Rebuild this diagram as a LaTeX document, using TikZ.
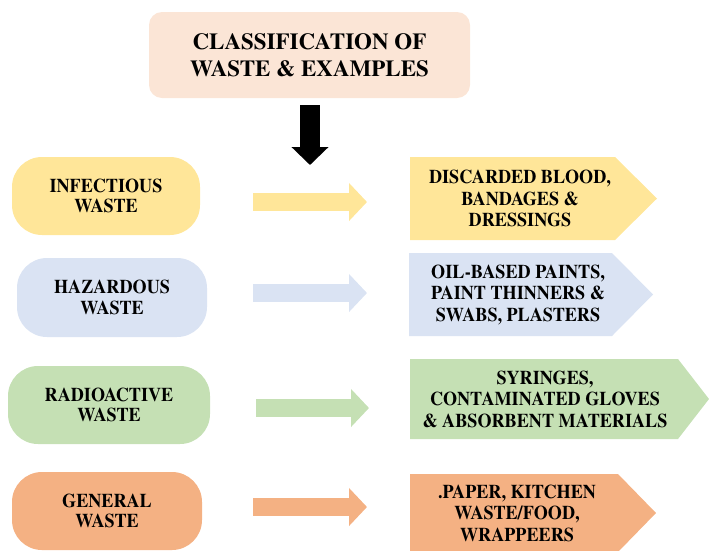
\documentclass[tikz,border=0pt]{standalone}
\usepackage{fontspec}
\setmainfont{texgyretermes}[Extension=.otf, UprightFont=*-regular, BoldFont=*-bold, ItalicFont=*-italic, BoldItalicFont=*-bolditalic]
\newfontfamily\narrowserif{texgyretermes}[Extension=.otf, UprightFont=*-regular, BoldFont=*-bold, FakeStretch=0.93]
\usetikzlibrary{arrows.meta}
\definecolor{titlefill}{HTML}{FBE5D6}
\definecolor{cyel}{HTML}{FFE699}
\definecolor{cblu}{HTML}{DAE3F3}
\definecolor{cgrn}{HTML}{C5E0B4}
\definecolor{cora}{HTML}{F4B183}
\tikzset{
  titlebox/.style={fill=titlefill, rounded corners=13pt, minimum width=321pt, minimum height=86pt,
    align=center, inner sep=0pt, font=\bfseries\fontsize{23}{27}\selectfont},
  leftbox/.style={rounded corners=30pt, minimum height=78pt, align=center, inner sep=0pt,
    font=\narrowserif\bfseries\fontsize{19.5}{20.5}\selectfont},
  tgttext/.style={align=center, inner sep=0pt, font=\narrowserif\bfseries\fontsize{19.5}{21.5}\selectfont},
  fatarrow/.style={line width=18pt, -{Triangle[length=18pt,width=37pt]}},
  blackarrow/.style={line width=20pt, black, -{Triangle[length=18pt,width=36pt]}}
}
\begin{document}
\begin{tikzpicture}[x=1pt,y=-1pt]
\useasboundingbox (0,0) rectangle (709,550);
% title
\node[titlebox] (title) at (309.5,55) {CLASSIFICATION OF\\WASTE \& EXAMPLES};
\coordinate (ba) at (310,105);
\coordinate (bb) at (310,165);
\draw[blackarrow] (ba) -- (bb);
% row 1
\node[leftbox, fill=cyel, minimum width=188pt] (l1) at (106,196) {INFECTIOUS\\WASTE};
\fill[cyel] (410,157) -- (615,157) -- (657,198.5) -- (615,240) -- (410,240) -- cycle;
\node[tgttext] (t1) at (520,198.5) {DISCARDED BLOOD,\\BANDAGES \&\\DRESSINGS};
\coordinate (a1s) at (253,202);
\coordinate (a1e) at (367,202);
\draw[fatarrow, cyel] (a1s) -- (a1e);
% row 2
\node[leftbox, fill=cblu, minimum width=190pt, minimum height=79pt] (l2) at (112,297.5) {HAZARDOUS\\WASTE};
\fill[cblu] (409,253) -- (612,253) -- (653,294.5) -- (612,336) -- (409,336) -- cycle;
\node[tgttext] (t2) at (518,294.5) {OIL-BASED PAINTS,\\PAINT THINNERS \&\\SWABS, PLASTERS};
\coordinate (a2s) at (253,293);
\coordinate (a2e) at (367,293);
\draw[fatarrow, cblu] (a2s) -- (a2e);
% row 3
\node[leftbox, fill=cgrn, minimum width=202pt] (l3) at (109,405) {RADIOACTIVE\\WASTE};
\fill[cgrn] (410,359) -- (678,359) -- (709,399) -- (678,439) -- (410,439) -- cycle;
\node[tgttext] (t3) at (545,399) {SYRINGES,\\CONTAMINATED GLOVES\\\& ABSORBENT MATERIALS};
\coordinate (a3s) at (256,408);
\coordinate (a3e) at (369,408);
\draw[fatarrow, cgrn] (a3s) -- (a3e);
% row 4
\node[leftbox, fill=cora, minimum width=190pt] (l4) at (107,511) {GENERAL\\WASTE};
\fill[cora] (410,474) -- (618,474) -- (656,513) -- (618,552) -- (410,552) -- cycle;
\node[tgttext] (t4) at (517,513) {.PAPER, KITCHEN\\WASTE/FOOD,\\WRAPPEERS};
\coordinate (a4s) at (253,507);
\coordinate (a4e) at (367,507);
\draw[fatarrow, cora] (a4s) -- (a4e);
\end{tikzpicture}
\end{document}
